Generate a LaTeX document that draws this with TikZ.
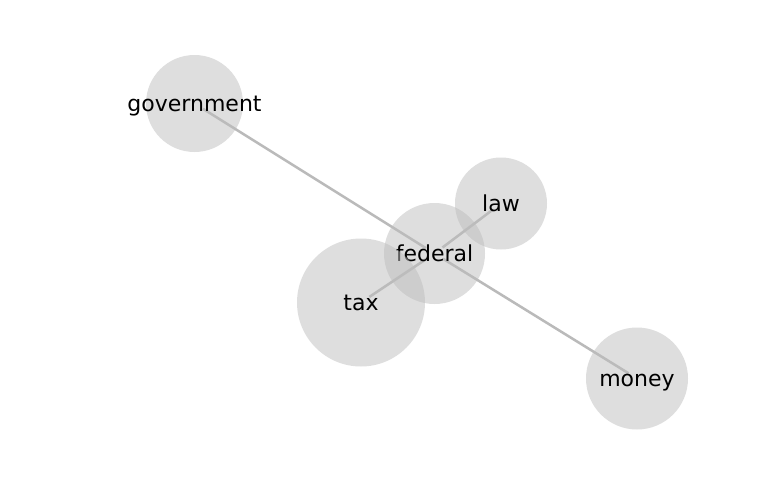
\documentclass[tikz,border=0pt]{standalone}
\usepackage{fontspec}
\setmainfont{DejaVu Sans}
\usetikzlibrary{backgrounds}

\tikzset{
	word/.style={circle, fill=black!26, fill opacity=0.5, text opacity=1, inner sep=0pt, text height=12pt, text depth=0pt, font=\fontsize{16.5}{19}\selectfont},
	link/.style={draw=black!27, line width=1.9pt, shorten >=7.5pt, shorten <=7.5pt}
}
% label wider than its circle
\newcommand{\wordlabel}[1]{\makebox[0pt]{#1}}

\begin{document}
\begin{tikzpicture}[x=0.75pt,y=-0.75pt]
			\useasboundingbox (0,0) rectangle (768,500);
			\node[word, minimum size=72.75pt] (government) at (194.5,103.5) {\wordlabel{government}};
			\node[word, minimum size=69pt] (law) at (501,203.5) {\wordlabel{law}};
			\node[word, minimum size=75.75pt] (federal) at (434.5,253.5) {\wordlabel{federal}};
			\node[word, minimum size=96pt] (tax) at (361,302.5) {\wordlabel{tax}};
			\node[word, minimum size=76.5pt] (money) at (637,378.5) {\wordlabel{money}};
			
			\begin{scope}[on background layer]
			\path[link]
			(federal.center) edge (government.center)
			(federal.center) edge (money.center)
			(federal.center) edge (tax.center)
			(federal.center) edge (law.center);
			\end{scope}
		\end{tikzpicture}
\end{document}
